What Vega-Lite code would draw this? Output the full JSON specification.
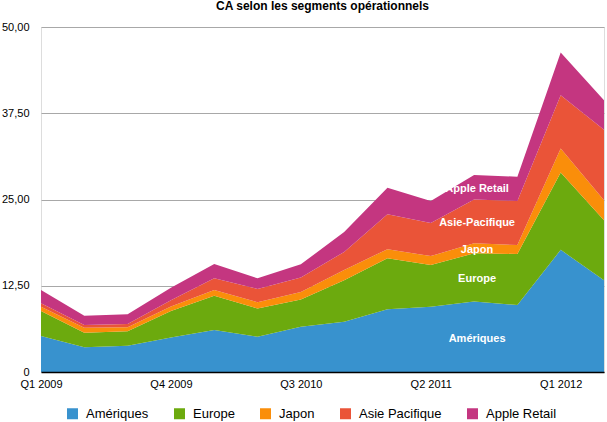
{
  "$schema": "https://vega.github.io/schema/vega-lite/v6.json",
  "width": 563,
  "height": 345,
  "autosize": {"type": "none"},
  "padding": {"left": 41, "top": 27, "right": 3, "bottom": 50},
  "background": "white",
  "title": {
    "text": "CA selon les segments opérationnels",
    "font": "Liberation Sans",
    "fontSize": 12,
    "fontWeight": "bold",
    "color": "black",
    "anchor": "middle",
    "offset": 2,
    "dy": -6
  },
  "data": {
    "values": [
      {"trimestre": "Q1 2009", "segment": "Amériques", "ca": 5.2},
      {"trimestre": "Q1 2009", "segment": "Europe", "ca": 3.64},
      {"trimestre": "Q1 2009", "segment": "Japon", "ca": 0.63},
      {"trimestre": "Q1 2009", "segment": "Asie Pacifique", "ca": 0.49},
      {"trimestre": "Q1 2009", "segment": "Apple Retail", "ca": 1.94},
      {"trimestre": "Q2 2009", "segment": "Amériques", "ca": 3.57},
      {"trimestre": "Q2 2009", "segment": "Europe", "ca": 2.13},
      {"trimestre": "Q2 2009", "segment": "Japon", "ca": 0.7},
      {"trimestre": "Q2 2009", "segment": "Asie Pacifique", "ca": 0.4},
      {"trimestre": "Q2 2009", "segment": "Apple Retail", "ca": 1.36},
      {"trimestre": "Q3 2009", "segment": "Amériques", "ca": 3.82},
      {"trimestre": "Q3 2009", "segment": "Europe", "ca": 2.08},
      {"trimestre": "Q3 2009", "segment": "Japon", "ca": 0.57},
      {"trimestre": "Q3 2009", "segment": "Asie Pacifique", "ca": 0.49},
      {"trimestre": "Q3 2009", "segment": "Apple Retail", "ca": 1.4},
      {"trimestre": "Q4 2009", "segment": "Amériques", "ca": 5.0},
      {"trimestre": "Q4 2009", "segment": "Europe", "ca": 3.84},
      {"trimestre": "Q4 2009", "segment": "Japon", "ca": 0.66},
      {"trimestre": "Q4 2009", "segment": "Asie Pacifique", "ca": 0.9},
      {"trimestre": "Q4 2009", "segment": "Apple Retail", "ca": 1.8},
      {"trimestre": "Q1 2010", "segment": "Amériques", "ca": 6.09},
      {"trimestre": "Q1 2010", "segment": "Europe", "ca": 4.97},
      {"trimestre": "Q1 2010", "segment": "Japon", "ca": 0.84},
      {"trimestre": "Q1 2010", "segment": "Asie Pacifique", "ca": 1.7},
      {"trimestre": "Q1 2010", "segment": "Apple Retail", "ca": 2.05},
      {"trimestre": "Q2 2010", "segment": "Amériques", "ca": 5.12},
      {"trimestre": "Q2 2010", "segment": "Europe", "ca": 4.08},
      {"trimestre": "Q2 2010", "segment": "Japon", "ca": 0.9},
      {"trimestre": "Q2 2010", "segment": "Asie Pacifique", "ca": 1.93},
      {"trimestre": "Q2 2010", "segment": "Apple Retail", "ca": 1.54},
      {"trimestre": "Q3 2010", "segment": "Amériques", "ca": 6.57},
      {"trimestre": "Q3 2010", "segment": "Europe", "ca": 3.93},
      {"trimestre": "Q3 2010", "segment": "Japon", "ca": 1.1},
      {"trimestre": "Q3 2010", "segment": "Asie Pacifique", "ca": 2.1},
      {"trimestre": "Q3 2010", "segment": "Apple Retail", "ca": 1.9},
      {"trimestre": "Q4 2010", "segment": "Amériques", "ca": 7.3},
      {"trimestre": "Q4 2010", "segment": "Europe", "ca": 6.0},
      {"trimestre": "Q4 2010", "segment": "Japon", "ca": 1.5},
      {"trimestre": "Q4 2010", "segment": "Asie Pacifique", "ca": 2.6},
      {"trimestre": "Q4 2010", "segment": "Apple Retail", "ca": 2.9},
      {"trimestre": "Q1 2011", "segment": "Amériques", "ca": 9.1},
      {"trimestre": "Q1 2011", "segment": "Europe", "ca": 7.4},
      {"trimestre": "Q1 2011", "segment": "Japon", "ca": 1.3},
      {"trimestre": "Q1 2011", "segment": "Asie Pacifique", "ca": 5.05},
      {"trimestre": "Q1 2011", "segment": "Apple Retail", "ca": 3.85},
      {"trimestre": "Q2 2011", "segment": "Amériques", "ca": 9.46},
      {"trimestre": "Q2 2011", "segment": "Europe", "ca": 6.04},
      {"trimestre": "Q2 2011", "segment": "Japon", "ca": 1.3},
      {"trimestre": "Q2 2011", "segment": "Asie Pacifique", "ca": 4.8},
      {"trimestre": "Q2 2011", "segment": "Apple Retail", "ca": 3.2},
      {"trimestre": "Q3 2011", "segment": "Amériques", "ca": 10.2},
      {"trimestre": "Q3 2011", "segment": "Europe", "ca": 7.0},
      {"trimestre": "Q3 2011", "segment": "Japon", "ca": 1.45},
      {"trimestre": "Q3 2011", "segment": "Asie Pacifique", "ca": 6.35},
      {"trimestre": "Q3 2011", "segment": "Apple Retail", "ca": 3.55},
      {"trimestre": "Q4 2011", "segment": "Amériques", "ca": 9.7},
      {"trimestre": "Q4 2011", "segment": "Europe", "ca": 7.4},
      {"trimestre": "Q4 2011", "segment": "Japon", "ca": 1.3},
      {"trimestre": "Q4 2011", "segment": "Asie Pacifique", "ca": 6.4},
      {"trimestre": "Q4 2011", "segment": "Apple Retail", "ca": 3.5},
      {"trimestre": "Q1 2012", "segment": "Amériques", "ca": 17.7},
      {"trimestre": "Q1 2012", "segment": "Europe", "ca": 11.2},
      {"trimestre": "Q1 2012", "segment": "Japon", "ca": 3.5},
      {"trimestre": "Q1 2012", "segment": "Asie Pacifique", "ca": 7.7},
      {"trimestre": "Q1 2012", "segment": "Apple Retail", "ca": 6.2},
      {"trimestre": "Q2 2012", "segment": "Amériques", "ca": 13.3},
      {"trimestre": "Q2 2012", "segment": "Europe", "ca": 8.7},
      {"trimestre": "Q2 2012", "segment": "Japon", "ca": 2.9},
      {"trimestre": "Q2 2012", "segment": "Asie Pacifique", "ca": 10.2},
      {"trimestre": "Q2 2012", "segment": "Apple Retail", "ca": 4.3}
    ]
  },
  "transform": [
    {
      "calculate": "indexof(['Amériques', 'Europe', 'Japon', 'Asie Pacifique', 'Apple Retail'], datum.segment)",
      "as": "rang"
    }
  ],
  "encoding": {
    "x": {
      "field": "trimestre",
      "type": "ordinal",
      "scale": {
        "type": "point",
        "padding": 0,
        "domain": ["Q1 2009", "Q2 2009", "Q3 2009", "Q4 2009", "Q1 2010", "Q2 2010", "Q3 2010", "Q4 2010", "Q1 2011", "Q2 2011", "Q3 2011", "Q4 2011", "Q1 2012", "Q2 2012"]
      },
      "axis": {
        "title": null,
        "values": ["Q1 2009", "Q4 2009", "Q3 2010", "Q2 2011", "Q1 2012"],
        "labelAngle": 0,
        "labelFont": "Liberation Sans",
        "labelFontSize": 11,
        "labelColor": "black",
        "labelPadding": 6,
        "ticks": false,
        "grid": false,
        "domainColor": "black",
        "domainWidth": 1.5,
        "zindex": 1
      }
    }
  },
  "layer": [
    {
      "mark": {"type": "area", "interpolate": "linear", "opacity": 1},
      "encoding": {
        "y": {
          "field": "ca",
          "type": "quantitative",
          "stack": "zero",
          "scale": {"domain": [0, 50], "nice": false},
          "axis": {
            "title": null,
            "values": [0, 12.5, 25, 37.5, 50],
            "labelExpr": "datum.value === 0 ? '0' : replace(format(datum.value, '.2f'), '.', ',')",
            "labelFont": "Liberation Sans",
            "labelFontSize": 11,
            "labelColor": "black",
            "labelPadding": 12,
            "domain": false,
            "ticks": false,
            "gridColor": "#a8a8a8",
            "gridWidth": 1
          }
        },
        "order": {"field": "rang", "type": "quantitative", "sort": "ascending"},
        "color": {
          "field": "segment",
          "type": "nominal",
          "scale": {
            "domain": ["Amériques", "Europe", "Japon", "Asie Pacifique", "Apple Retail"],
            "range": ["#3892ce", "#6caa0e", "#fa8e0a", "#ea5438", "#c43680"]
          },
          "legend": {
            "title": null,
            "orient": "none",
            "legendX": 25,
            "legendY": 380,
            "direction": "horizontal",
            "columns": 5,
            "symbolType": "square",
            "symbolSize": 121,
            "symbolStrokeWidth": 0,
            "symbolOpacity": 1,
            "labelFont": "Liberation Sans",
            "labelFontSize": 13,
            "labelColor": "black",
            "labelOffset": 7,
            "columnPadding": 24
          }
        }
      }
    },
    {
      "transform": [
        {"filter": "datum.trimestre === 'Q3 2011'"},
        {"stack": "ca", "groupby": ["trimestre"], "sort": [{"field": "rang", "order": "ascending"}], "as": ["debut", "fin"]},
        {"calculate": "(datum.debut + datum.fin) / 2", "as": "milieu"},
        {"calculate": "datum.segment === 'Asie Pacifique' ? 'Asie-Pacifique' : datum.segment", "as": "etiquette"}
      ],
      "mark": {
        "type": "text",
        "font": "Liberation Sans",
        "fontSize": 11,
        "fontWeight": "bold",
        "color": "white",
        "align": "center",
        "baseline": "middle",
        "dx": 3,
        "dy": 2
      },
      "encoding": {
        "y": {"field": "milieu", "type": "quantitative"},
        "text": {"field": "etiquette", "type": "nominal"}
      }
    }
  ]
}
